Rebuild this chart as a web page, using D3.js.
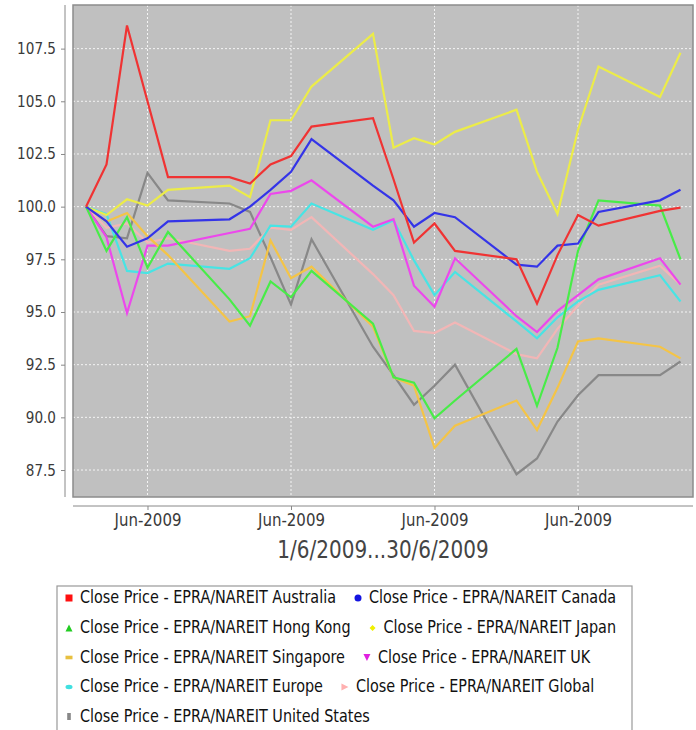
<!DOCTYPE html>
<html><head><meta charset="utf-8">
<script src="https://cdn.jsdelivr.net/npm/d3@7"></script>
<style>
body{margin:0;background:#fff;}
svg{display:block;font-family:"DejaVu Sans",sans-serif;}
</style></head>
<body>
<div id="chart"></div>
<script>
// ---- data ----
const dates = ["2009-06-01","2009-06-02","2009-06-03","2009-06-04","2009-06-05",
  "2009-06-08","2009-06-09","2009-06-10","2009-06-11","2009-06-12",
  "2009-06-15","2009-06-16","2009-06-17","2009-06-18","2009-06-19",
  "2009-06-22","2009-06-23","2009-06-24","2009-06-25","2009-06-26",
  "2009-06-29","2009-06-30"];
const seriesNames = ["Australia","Canada","Hong Kong","Japan","Singapore","UK","Europe","Global","United States"];
const australia = [100,102.0,108.6,105.0,101.4,101.4,101.1,102.0,102.4,103.8,104.2,101.3,98.3,99.2,97.9,97.5,95.4,97.7,99.6,99.1,99.8,99.95];
const canada    = [100,99.3,98.1,98.5,99.3,99.4,100.0,100.8,101.65,103.2,101.0,100.3,99.05,99.7,99.5,97.25,97.15,98.15,98.25,99.75,100.3,100.8];
const hongKong  = [100,97.9,99.5,97.1,98.8,95.6,94.35,96.45,95.7,96.95,94.45,91.9,91.65,89.95,90.8,93.25,90.55,93.3,97.9,100.3,100.05,97.5];
const japan     = [100,99.6,100.35,100.05,100.8,101.0,100.45,104.1,104.1,105.7,108.2,102.8,103.25,102.95,103.55,104.6,101.65,99.65,103.65,106.65,105.2,107.3];
const singapore = [100,99.3,99.7,98.6,97.7,94.55,94.8,98.4,96.6,97.15,94.3,91.9,91.5,88.55,89.6,90.8,89.4,91.4,93.6,93.75,93.35,92.8];
const uk        = [100,98.55,94.95,98.15,98.15,98.75,98.95,100.6,100.75,101.25,99.05,99.4,96.25,95.25,97.55,94.8,94.05,95.05,95.8,96.55,97.55,96.3];
const europe    = [100,99.65,96.95,96.85,97.3,97.05,97.55,99.1,99.05,100.15,98.9,99.35,97.45,95.8,96.9,94.55,93.75,94.75,95.5,96.05,96.75,95.5];
const global    = [100,99.0,99.2,98.3,98.5,97.9,98.0,99.0,98.9,99.5,96.8,95.8,94.1,94.0,94.5,93.0,92.8,94.2,95.3,96.3,97.2,96.3];
const unitedStates = [100,98.6,98.5,101.6,100.3,100.15,99.75,97.6,95.35,98.45,93.35,92.0,90.6,91.5,92.5,87.3,88.05,89.8,91.05,92.0,92.0,92.65];
const seriesValues = [australia,canada,hongKong,japan,singapore,uk,europe,global,unitedStates];
const yTicks = [87.5,90.0,92.5,95.0,97.5,100.0,102.5,105.0,107.5];
const xTickDates = ["2009-06-04","2009-06-11","2009-06-18","2009-06-25"];
const xTickLabel = "Jun-2009";
const titleText = "1/6/2009...30/6/2009";
const legendPrefix = "Close Price - EPRA/NAREIT ";

// ---- styles ----
const lineColors = ["#f03333","#3434e8","#48ec48","#ecec48","#f4c446","#ec48ec","#48e4e4","#f2b6b6","#888888"];
const markColors = ["#ff1010","#1414e0","#22cc22","#f0f000","#e8c040","#e020e0","#40e0e0","#ffb0b0","#888888"];
const shapes = ["square","circle","triUp","diamond","hrect","triDown","hellipse","triRight","vrect"];

const W = 696, H = 730;
const P = {l:73, r:693, t:5, b:497};
const parse = d3.timeParse("%Y-%m-%d");

const svg = d3.select("#chart").append("svg").attr("width",W).attr("height",H);
svg.append("rect").attr("width",W).attr("height",H).attr("fill","#fff");

const x = d3.scaleTime()
  .domain([new Date(2009,4,31,8,47), new Date(2009,5,30,14,38)])
  .range([P.l, P.r]);
const y = d3.scaleLinear().domain([86.22,109.57]).range([P.b, P.t]);

// plot background
svg.append("rect").attr("x",P.l).attr("y",P.t).attr("width",P.r-P.l).attr("height",P.b-P.t)
  .attr("fill","#c0c0c0");

// gridlines
const grid = svg.append("g");
grid.selectAll("line.h").data(yTicks).enter().append("line")
  .attr("x1",P.l).attr("x2",P.r).attr("y1",d=>y(d)).attr("y2",d=>y(d))
  .attr("stroke","#f4f4f4").attr("stroke-width",1).attr("stroke-dasharray","2,2");
grid.selectAll("line.v").data(xTickDates.map(parse)).enter().append("line")
  .attr("y1",P.t).attr("y2",P.b).attr("x1",d=>x(d)).attr("x2",d=>x(d))
  .attr("stroke","#f4f4f4").attr("stroke-width",1).attr("stroke-dasharray","2,2");

// lines
const clip = svg.append("clipPath").attr("id","pc").append("rect")
  .attr("x",P.l).attr("y",P.t).attr("width",P.r-P.l).attr("height",P.b-P.t);
const line = d3.line().x(d=>x(d.date)).y(d=>y(d.v));
const lg = svg.append("g").attr("clip-path","url(#pc)");
for (let s = seriesValues.length-1; s >= 0; s--) {
  const pts = seriesValues[s].map((v,i)=>({date:parse(dates[i]), v}));
  lg.append("path").attr("d", line(pts)).attr("fill","none")
    .attr("stroke", lineColors[s]).attr("stroke-width", 2.2);
}

// plot border
svg.append("rect").attr("x",P.l).attr("y",P.t).attr("width",P.r-P.l).attr("height",P.b-P.t)
  .attr("fill","none").attr("stroke","#8c8c8c").attr("stroke-width",1.5);

// y axis
const yAxis = svg.append("g").attr("transform","translate(65,0)")
  .call(d3.axisLeft(y).tickValues(yTicks).tickFormat(d3.format(".1f")).tickSize(4).tickPadding(5).tickSizeOuter(0));
yAxis.select(".domain").attr("stroke","#888").attr("d",`M0,${P.t}V${P.b}`);
yAxis.selectAll(".tick line").attr("stroke","#888");
yAxis.selectAll(".tick text").attr("font-size",13.6).attr("fill","#3a3a3a")
  .attr("font-family","DejaVu Sans").attr("transform","scale(1,1.22)").attr("dy","0.3em");

// x axis
const xAxis = svg.append("g").attr("transform","translate(0,506)")
  .call(d3.axisBottom(x).tickValues(xTickDates.map(parse)).tickFormat(()=>xTickLabel).tickSize(4).tickPadding(4).tickSizeOuter(0));
xAxis.select(".domain").attr("stroke","#888").attr("d",`M${P.l},0H${P.r}`);
xAxis.selectAll(".tick line").attr("stroke","#888");
xAxis.selectAll(".tick text").attr("font-size",15).attr("fill","#3a3a3a")
  .attr("font-family","DejaVu Sans").attr("transform","scale(1,1.2)").attr("y",6);

// title
svg.append("text").attr("transform",`translate(${(P.l+P.r)/2},558) scale(1,1.2)`)
  .attr("text-anchor","middle").attr("font-size",20).attr("fill","#444").text(titleText);

// legend
svg.append("rect").attr("x",57).attr("y",586).attr("width",575).attr("height",160)
  .attr("fill","#fff").attr("stroke","#999").attr("stroke-width",1.2);
const rows = [[0,1],[2,3],[4,5],[6,7],[8]];
const rowY = [598,628,657.5,687,716.5];
function marker(g, shape, cx, cy, col){
  let el;
  switch(shape){
    case "square": el=g.append("rect").attr("x",cx-3.5).attr("y",cy-3.5).attr("width",7).attr("height",7); break;
    case "circle": el=g.append("circle").attr("cx",cx).attr("cy",cy).attr("r",3.5); break;
    case "triUp": el=g.append("path").attr("d",`M${cx},${cy-3.5}L${cx+3.5},${cy+3.5}L${cx-3.5},${cy+3.5}Z`); break;
    case "diamond": el=g.append("path").attr("d",`M${cx},${cy-3}L${cx+3},${cy}L${cx},${cy+3}L${cx-3},${cy}Z`); break;
    case "hrect": el=g.append("rect").attr("x",cx-3.5).attr("y",cy-1.8).attr("width",7).attr("height",3.6); break;
    case "triDown": el=g.append("path").attr("d",`M${cx-3.5},${cy-3.5}L${cx+3.5},${cy-3.5}L${cx},${cy+3.5}Z`); break;
    case "hellipse": el=g.append("ellipse").attr("cx",cx).attr("cy",cy).attr("rx",3.5).attr("ry",2.2); break;
    case "triRight": el=g.append("path").attr("d",`M${cx-3.5},${cy-3.5}L${cx+3.5},${cy}L${cx-3.5},${cy+3.5}Z`); break;
    case "vrect": el=g.append("rect").attr("x",cx-1.8).attr("y",cy-3.5).attr("width",3.6).attr("height",7); break;
  }
  el.attr("fill",col);
}
const leg = svg.append("g");
rows.forEach((row,ri)=>{
  let mx = 69;
  const cy = rowY[ri];
  row.forEach(si=>{
    marker(leg, shapes[si], mx, cy, markColors[si]);
    const t = leg.append("text").attr("transform",`translate(${mx+11},${cy+5.4}) scale(1,1.2)`)
      .attr("font-size",14.4).attr("fill","#111").text(legendPrefix + seriesNames[si]);
    const w = t.node().getComputedTextLength();
    mx = mx + 11 + w + 22;
  });
});
</script>
</body></html>
